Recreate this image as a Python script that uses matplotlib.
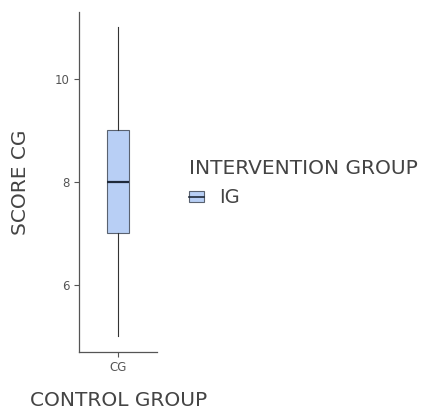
import matplotlib.pyplot as plt
from matplotlib.patches import Patch
from matplotlib.lines import Line2D
from matplotlib.legend_handler import HandlerTuple

# summary values
groups = ["CG"]
q1 = [7]
median = [8]
q3 = [9]
whisker_low = [5]
whisker_high = [11]
legend_labels = ["IG"]

fill = "#b8cff5"
edge = "#5a6270"
text_col = "#444444"

fig = plt.figure(figsize=(4.32, 4.11), dpi=100)
ax = fig.add_axes([0.183, 0.144, 0.181, 0.827])

stats = []
for i, g in enumerate(groups):
    stats.append({"label": g, "q1": q1[i], "med": median[i], "q3": q3[i],
                  "whislo": whisker_low[i], "whishi": whisker_high[i], "fliers": []})

ax.bxp(stats, positions=[1], widths=0.33, patch_artist=True, showcaps=False,
       boxprops=dict(facecolor=fill, edgecolor=edge, linewidth=0.8),
       medianprops=dict(color="#1f2a3a", linewidth=1.6),
       whiskerprops=dict(color="#333333", linewidth=0.8))

ax.set_xlim(0.4, 1.6)
ax.set_ylim(4.7, 11.3)
ax.set_yticks([6, 8, 10])
ax.set_xticks([1])
ax.set_xticklabels(groups)
for s in ["top", "right"]:
    ax.spines[s].set_visible(False)
for s in ["left", "bottom"]:
    ax.spines[s].set_color("#555555")
    ax.spines[s].set_linewidth(0.9)
ax.tick_params(labelsize=8.5, colors="#555555", labelcolor="#555555", length=3.5, pad=3)

ax.set_ylabel("SCORE CG", fontsize=14.5, color=text_col, labelpad=18)
ax.set_xlabel("CONTROL GROUP", fontsize=14.5, color=text_col, labelpad=12)

handles = [(Patch(facecolor=fill, edgecolor=edge, linewidth=0.8),
            Line2D([], [], color="#1f2a3a", linewidth=1.2))]
leg = fig.legend(handles, legend_labels, title="INTERVENTION GROUP",
                 handler_map={tuple: HandlerTuple(ndivide=1)},
                 loc="upper left", bbox_to_anchor=(0.437, 0.612),
                 frameon=False, fontsize=14, title_fontsize=14.5,
                 handlelength=0.8, handleheight=0.5, handletextpad=0.75,
                 labelspacing=0.5, borderpad=0, borderaxespad=0)
leg._legend_box.align = "left"
leg.get_title().set_color(text_col)
for t in leg.get_texts():
    t.set_color(text_col)

fig.savefig("out.png", dpi=100)
